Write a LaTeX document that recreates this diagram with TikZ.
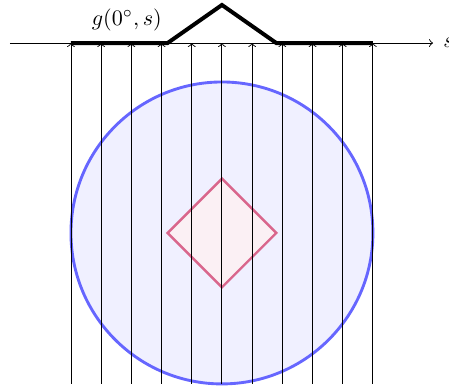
\documentclass[tikz,border=0pt]{standalone}
\begin{document}
\begin{tikzpicture}[x=0.48cm,y=0.48cm,
  ray/.style={->,black,line width=0.4pt},
  body/.style={draw=blue!60,fill=blue!6,line width=1.3pt},
  inner/.style={draw=purple!60,fill=purple!6,line width=1.1pt},
  proj/.style={line width=1.8pt,line join=miter}]
\useasboundingbox (-7.35,-5.1) rectangle (7.52,7.715);
\coordinate (O) at (0,0);
\path[body] (O) circle (5);
\path[inner] (1.8,0) -- (0,1.8) -- (-1.8,0) -- (0,-1.8) -- cycle;
\coordinate (axL) at (-7.02,6.29);
\coordinate (axR) at (6.99,6.29);
\draw[->] (axL) -- (axR);
\node[anchor=west,inner sep=0pt,xshift=4.5pt] (slab) at (axR) {$s$};
\foreach \i in {-5,...,5} {
  \coordinate (b\i) at (\i,-5);
  \coordinate (t\i) at (\i,6.29);
  \draw[ray] (b\i) -- (t\i);
}
\coordinate (pk) at (0,7.55);
\coordinate (d1) at (-1.8,6.29);
\coordinate (d2) at (1.8,6.29);
\draw[proj] (t-5) -- (d1) -- (pk) -- (d2) -- (t5);
\node (glab) at (-3.15,7.05) {$g(0^\circ,s)$};
\end{tikzpicture}
\end{document}
